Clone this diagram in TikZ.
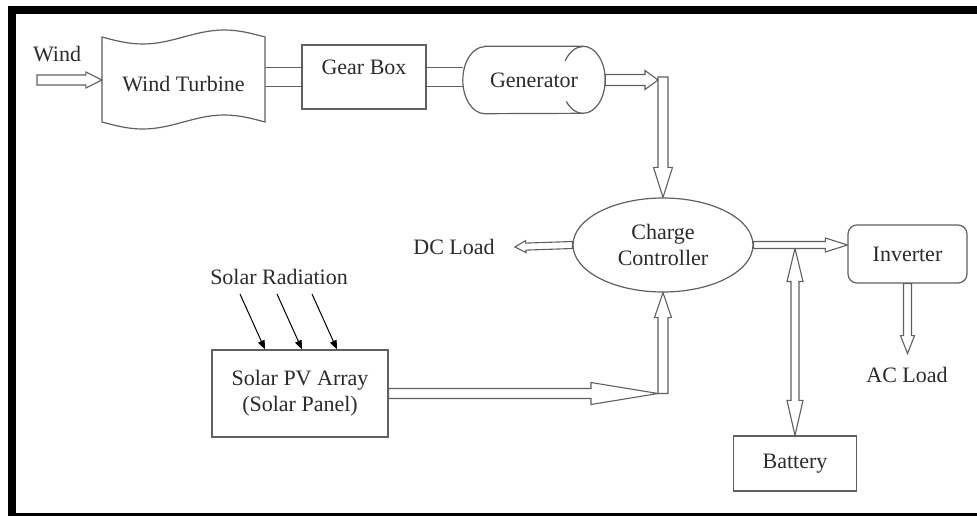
\documentclass[tikz,border=0pt]{standalone}
\usepackage{fontspec}
\setmainfont{Liberation Serif}
\usetikzlibrary{calc}
\usetikzlibrary{arrows.meta}
\usetikzlibrary{shapes.geometric}
\usetikzlibrary{positioning}

\definecolor{linegray}{HTML}{606060}
\definecolor{txtgray}{HTML}{2B2B2B}

% hollow arrow: tail, tip, shaft half width, head half width, head length
\newcommand{\hollowarrow}[5]{%
  \coordinate (hb) at ($(#2)!#5!(#1)$);
  \draw[hollow] ($(#1)!#3!90:(#2)$) -- ($(hb)!#3!-90:(#1)$) -- ($(hb)!#4!-90:(#1)$) -- (#2)
    -- ($(hb)!#4!90:(#1)$) -- ($(hb)!#3!90:(#1)$) -- ($(#1)!#3!-90:(#2)$) -- cycle;
}
% hollow arrow with two heads: end A, end B, shaft half width, head half width, head length A, head length B
\newcommand{\hollowdarrow}[6]{%
  \coordinate (ha) at ($(#1)!#5!(#2)$);
  \coordinate (hb) at ($(#2)!#6!(#1)$);
  \draw[hollow] (#1) -- ($(ha)!#4!90:(#2)$) -- ($(ha)!#3!90:(#2)$) -- ($(hb)!#3!-90:(#1)$)
    -- ($(hb)!#4!-90:(#1)$) -- (#2) -- ($(hb)!#4!90:(#1)$) -- ($(hb)!#3!90:(#1)$)
    -- ($(ha)!#3!-90:(#2)$) -- ($(ha)!#4!-90:(#2)$) -- cycle;
}

\tikzset{
  box/.style={draw=linegray, line width=1.2pt, inner sep=0pt, text=txtgray},
  lbl/.style={text=txtgray, inner sep=0pt},
  hollow/.style={draw=linegray, line width=1.1pt, fill=white, line join=miter},
  conn/.style={draw=linegray, line width=1.2pt},
  ray/.style={draw=black, line width=1pt, -{Triangle[length=9pt,width=7pt]}},
}

\begin{document}
\begin{tikzpicture}[x=1pt, y=-1pt, font=\fontsize{22}{26}\selectfont]
  \useasboundingbox (0,0) rectangle (977,516);
  \clip (0,0) rectangle (977,516);
  \fill[white] (0,0) rectangle (977,516);
  \draw[line width=8pt] (12,10) rectangle (995,517);

  % wind side
  \node[lbl] (wind) at (57,54) {Wind};
  \node[inner sep=0pt, minimum width=163pt, minimum height=60pt, text=txtgray] (wt) at (183.5,84) {Wind Turbine};
  \draw[conn] (102,37) sin (142.75,44) cos (183.5,37) sin (224.25,30) cos (265,37)
    -- (265,122) sin (224.25,115) cos (183.5,122) sin (142.75,129) cos (102,122) -- cycle;
  \node[box, minimum width=124pt, text height=30pt, text depth=34pt] (gb) at (364,77) {Gear Box};
  \node[inner sep=0pt, minimum width=142pt, minimum height=67pt, text=txtgray] (gen) at (534,80) {Generator};
  \coordinate (gr) at ([xshift=-22pt]gen.east);
  \draw[conn] ([xshift=22pt]gen.north west) -- ([xshift=-22pt]gen.north east)
    arc[start angle=90, end angle=-90, x radius=22pt, y radius=33.5pt]
    -- ([xshift=22pt]gen.south west)
    arc[start angle=270, end angle=90, x radius=22pt, y radius=33.5pt] -- cycle;
  \draw[conn] ([yshift=33.5pt]gr) arc[start angle=90, end angle=145, x radius=22pt, y radius=33.5pt];
  \draw[conn] ([yshift=-33.5pt]gr) arc[start angle=-90, end angle=-140, x radius=22pt, y radius=33.5pt];

  \coordinate (w0) at (37,80);
  \coordinate (w1) at (wt.west |- w0);
  \hollowarrow{w0}{w1}{5pt}{8pt}{16pt}

  \foreach \dy in {9.5,-9.5} {
    \draw[conn] ([yshift=\dy pt]gb.west) -- ([yshift=\dy pt]gb.west -| wt.east);
    \draw[conn] ([yshift=\dy pt]gb.east) -- ([yshift=\dy pt]gb.east -| gen.west);
  }

  % charge controller and loads
  \node[box, ellipse, minimum width=180pt, minimum height=94pt, align=center] (ctrl) at (663,245) {Charge\\Controller};
  \node[lbl] (dc) at (454,247) {DC Load};
  \node[box, rounded corners=9pt, minimum width=119pt, minimum height=58pt] (inv) at (907.5,254) {Inverter};
  \node[lbl] (ac) at (907,375) {AC Load};
  \node[box, minimum width=123pt, minimum height=55pt] (bat) at (795,463.5) {Battery};

  % solar side
  \node[lbl] (sr) at (279,277) {Solar Radiation};
  \node[box, minimum width=176pt, minimum height=87pt, align=center] (pv) at (300,393.5) {Solar PV Array\\(Solar Panel)};
  \foreach \i/\sx/\dx in {1/240/-35, 2/277/2, 3/312/37} {
    \coordinate (r\i) at (\sx,294);
    \draw[ray] (r\i) -- ([xshift=\dx pt]pv.north);
  }

  % power flow
  \coordinate (gj) at (gen.east -| ctrl.north);
  \coordinate (gjt) at ([yshift=3pt]gj);
  \coordinate (gjl) at ([xshift=-5pt]gj);
  \hollowarrow{gjt}{ctrl.north}{5pt}{9.5pt}{30pt}
  \hollowarrow{gen.east}{gjl}{5.5pt}{9.5pt}{13pt}

  \coordinate (sj) at (pv.east -| ctrl.south);
  \coordinate (sjl) at ([xshift=-5pt]sj);
  \hollowarrow{sj}{ctrl.south}{5pt}{8.5pt}{25pt}
  \hollowarrow{pv.east}{sjl}{5pt}{11pt}{67pt}

  \coordinate (dct) at ([xshift=20pt]dc.east);
  \hollowarrow{ctrl.west}{dct}{3.5pt}{6pt}{11pt}

  \coordinate (bj) at (bat.north |- ctrl.east);
  \coordinate (bjt) at ([yshift=-3.5pt]bj);
  \hollowdarrow{bjt}{bat.north}{4pt}{8pt}{33pt}{35pt}
  \hollowarrow{ctrl.east}{inv.west |- ctrl.east}{3.5pt}{7pt}{22pt}

  \coordinate (act) at ([yshift=-70pt]inv.south);
  \hollowarrow{inv.south}{act}{4pt}{7pt}{18pt}
\end{tikzpicture}
\end{document}
